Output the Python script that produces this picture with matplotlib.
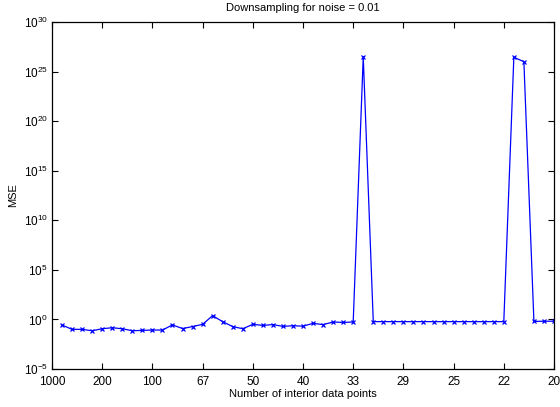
import matplotlib
matplotlib.use("Agg")
import matplotlib.pyplot as plt
import numpy as np

plt.rcParams['font.family'] = ['Liberation Sans', 'DejaVu Sans']
plt.rcParams['mathtext.fontset'] = 'custom'
plt.rcParams['mathtext.rm'] = 'Liberation Sans'
plt.rcParams['mathtext.default'] = 'regular'

# downsampling factor k (x positions) and MSE values
k = list(range(1, 51))
mse = [0.27, 0.10, 0.10, 0.072, 0.115, 0.145, 0.115, 0.072, 0.079, 0.085,
       0.085, 0.28, 0.12, 0.19, 0.32, 2.4, 0.59, 0.19, 0.115, 0.32,
       0.25, 0.30, 0.20, 0.23, 0.21, 0.40, 0.30, 0.55, 0.50, 0.55,
       3.2e26, 0.60, 0.60, 0.60, 0.60, 0.60, 0.60, 0.60, 0.60, 0.60,
       0.60, 0.60, 0.60, 0.60, 0.60, 2.75e26, 1.0e26, 0.63, 0.66, 0.66]

xtick_pos = [0, 5, 10, 15, 20, 25, 30, 35, 40, 45, 50]
xtick_labels = ['1000', '200', '100', '67', '50', '40', '33', '29', '25', '22', '20']
ytick_vals = [1e-5, 1e0, 1e5, 1e10, 1e15, 1e20, 1e25, 1e30]

fig = plt.figure(figsize=(5.6, 4.07), dpi=100)
ax = fig.add_axes([52/560, 1-369/407, 502/560, 347/407])
ax.plot(k, mse, color='#0000ff', lw=0.9, marker='x', markersize=3.5, markeredgewidth=0.9)
ax.set_yscale('log')
ax.set_xlim(0, 50)
ax.set_ylim(1e-5, 1e30)
ax.set_yticks(ytick_vals)
ax.yaxis.set_minor_locator(matplotlib.ticker.NullLocator())
ax.set_xticks(xtick_pos)
ax.set_xticklabels(xtick_labels)
ax.tick_params(direction='in', top=True, right=True, length=4, width=0.8, labelsize=8.5, pad=3)
ax.tick_params(axis='x', pad=5)
for s in ax.spines.values():
    s.set_linewidth(0.9)
ax.set_title('Downsampling for noise = 0.01', fontsize=8, pad=8)
ax.set_xlabel('Number of interior data points', fontsize=8, labelpad=1)
ax.set_ylabel('MSE', fontsize=8, labelpad=4)
fig.savefig('out.png', dpi=100)
